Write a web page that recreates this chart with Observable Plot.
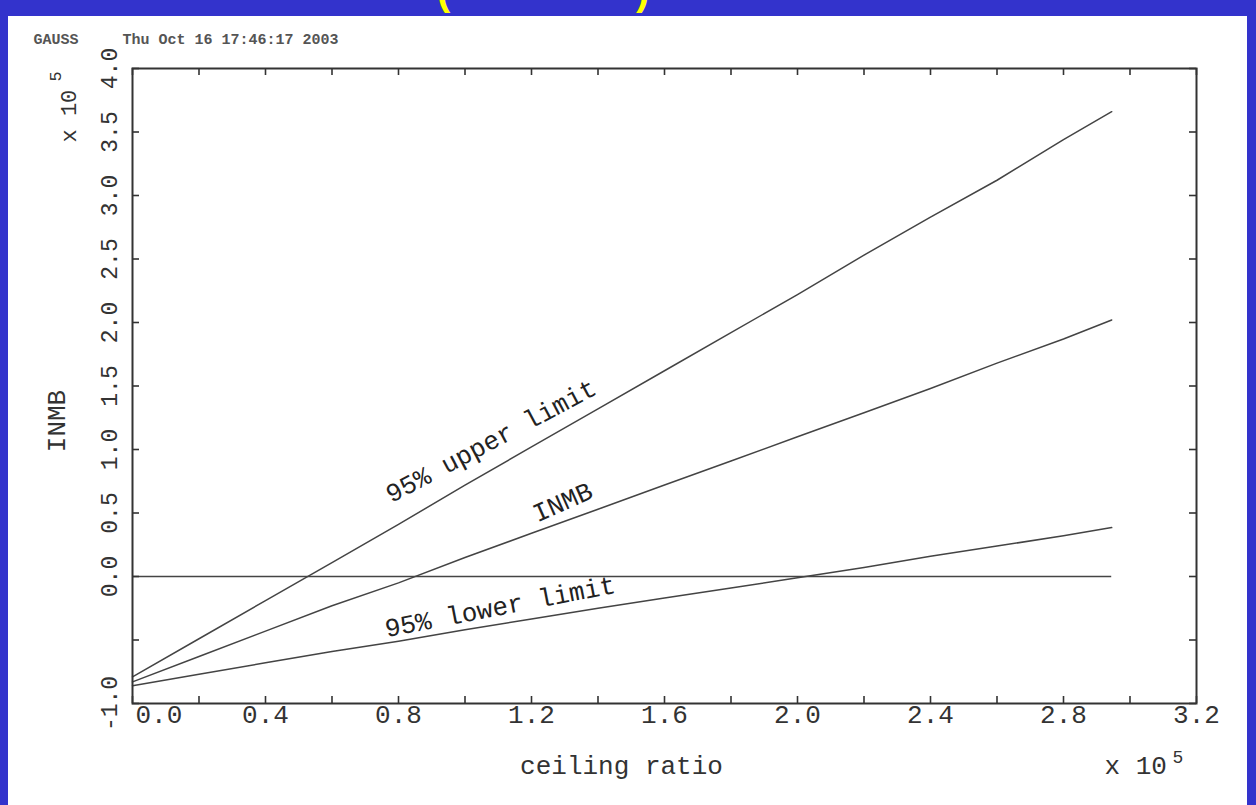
<!DOCTYPE html>
<html><head><meta charset="utf-8">
<script src="https://cdn.jsdelivr.net/npm/d3@7"></script>
<script src="https://cdn.jsdelivr.net/npm/@observablehq/plot@0.6"></script>
<style>
html,body{margin:0;padding:0;}
body{width:1256px;height:805px;background:#3333cc;position:relative;overflow:hidden;}
#panel{position:absolute;left:8px;top:16px;width:1239px;height:789px;background:#fff;}
#yellow{position:absolute;top:0;left:0;width:1256px;height:16px;overflow:hidden;}
#yellow span{position:absolute;top:-29px;font:bold 40px "Liberation Sans";color:#ffff00;line-height:40px;}
</style></head><body>
<div id="yellow"><span style="left:437px">(</span><span style="left:636px">)</span></div>
<div id="panel"></div>
<script>
// ceiling ratio (x 10^5)
const ceiling = [0, 0.2, 0.4, 0.6, 0.8, 1.0, 1.2, 1.4, 1.6, 1.8, 2.0, 2.2, 2.4, 2.6, 2.8, 2.945];
// INMB series (x 10^5)
const upper = [-0.79, -0.49, -0.19, 0.11, 0.41, 0.72, 1.02, 1.32, 1.62, 1.92, 2.22, 2.53, 2.83, 3.12, 3.44, 3.66];
const inmb  = [-0.83, -0.63, -0.43, -0.23, -0.05, 0.15, 0.34, 0.53, 0.72, 0.91, 1.10, 1.29, 1.48, 1.68, 1.87, 2.02];
const lower = [-0.86, -0.77, -0.68, -0.59, -0.51, -0.42, -0.335, -0.25, -0.17, -0.09, -0.01, 0.07, 0.16, 0.24, 0.32, 0.385];
const seriesNames = ["95% upper limit", "INMB", "95% lower limit"];
const refLevel = 0;

const xTickValues = [0, 0.4, 0.8, 1.2, 1.6, 2.0, 2.4, 2.8, 3.2];
const xTickLabels = ["0.0", "0.4", "0.8", "1.2", "1.6", "2.0", "2.4", "2.8", "3.2"];
const xMinorValues = [0.2, 0.6, 1.0, 1.4, 1.8, 2.2, 2.6, 3.0];
const yTickValues = [-1, -0.5, 0, 0.5, 1, 1.5, 2, 2.5, 3, 3.5, 4];
const yTickLabels = ["-1.0", "", "0.0", "0.5", "1.0", "1.5", "2.0", "2.5", "3.0", "3.5", "4.0"];
const titleLeft = "GAUSS";
const titleRight = "Thu Oct 16 17:46:17 2003";
const xTitle = "ceiling ratio";
const yTitle = "INMB";
const scaleNote = "x 10";
const scaleExp = "5";

const W = 1239, H = 789, mL = 124, mR = 51, mT = 52, mB = 102;
const innerW = W - mL - mR, innerH = H - mT - mB;
const FONT = "Liberation Mono";
const INK = "#333";

const series = [upper, inmb, lower];
const tidy = [];
series.forEach((vals, s) => vals.forEach((v, i) => tidy.push({series: seriesNames[s], x: ceiling[i], y: v})));

const allXTicks = [...xTickValues, ...xMinorValues];
const tickStyle = {stroke: INK, strokeWidth: 1.6};

// label anchors: series index, point index, pixel offsets, rotation
const labelSpecs = [
  {s: 0, i: 5, dx: 26, dy: -44, rotate: -28},
  {s: 1, i: 6, dx: 31, dy: -31, rotate: -24},
  {s: 2, i: 5, dx: 35, dy: -23, rotate: -11}
];

const marks = [
  Plot.ruleY([refLevel], {x1: ceiling[0], x2: ceiling[ceiling.length - 1], stroke: "#444", strokeWidth: 1.6}),
  Plot.line(tidy, {x: "x", y: "y", z: "series", stroke: "#444", strokeWidth: 1.5}),
  Plot.tickX(allXTicks, {x: d => d, insetTop: innerH - 7, ...tickStyle}),
  Plot.tickX(allXTicks, {x: d => d, insetBottom: innerH - 7, ...tickStyle}),
  Plot.tickY(yTickValues, {y: d => d, insetRight: innerW - 7, ...tickStyle}),
  Plot.tickY(yTickValues, {y: d => d, insetLeft: innerW - 7, ...tickStyle}),
  Plot.frame({stroke: "#333", strokeWidth: 2}),
  // x tick labels
  Plot.text(xTickValues.slice(1), {x: d => d, text: (d, i) => xTickLabels[i + 1], frameAnchor: "bottom", dy: 19, fontSize: 26, fontFamily: FONT, fill: INK}),
  Plot.text([xTickValues[0]], {x: d => d, text: () => xTickLabels[0], frameAnchor: "bottom", textAnchor: "start", dx: 3, dy: 19, fontSize: 26, fontFamily: FONT, fill: INK}),
  // y tick labels
  Plot.text(yTickValues, {y: d => d, text: (d, i) => yTickLabels[i], frameAnchor: "left", dx: -23, rotate: -90, textAnchor: "middle", fontSize: 23, fontFamily: FONT, fill: INK}),
  // titles
  Plot.text([titleLeft], {text: d => d, frameAnchor: "top-left", textAnchor: "start", dx: -99, dy: -35, fontSize: 15, fontWeight: "bold", fontFamily: FONT, fill: "#555"}),
  Plot.text([titleRight], {text: d => d, frameAnchor: "top-left", textAnchor: "start", dx: -10, dy: -35, fontSize: 15, fontWeight: "bold", fontFamily: FONT, fill: "#555"}),
  Plot.text([xTitle], {text: d => d, frameAnchor: "bottom-left", textAnchor: "middle", dx: 489, dy: 70, fontSize: 26, fontFamily: FONT, fill: INK}),
  Plot.text([scaleNote], {text: d => d, frameAnchor: "bottom-right", textAnchor: "start", dx: -92, dy: 70, fontSize: 26, fontFamily: FONT, fill: INK}),
  Plot.text([scaleExp], {text: d => d, frameAnchor: "bottom-right", textAnchor: "start", dx: -24, dy: 59, fontSize: 18, fontFamily: FONT, fill: INK}),
  Plot.text([yTitle], {text: d => d, frameAnchor: "left", textAnchor: "middle", rotate: -90, dx: -76, dy: 35, fontSize: 26, fontFamily: FONT, fill: INK}),
  Plot.text([scaleNote], {text: d => d, frameAnchor: "top-left", textAnchor: "start", rotate: -90, dx: -72, dy: 74, fontSize: 22, fontFamily: FONT, fill: INK}),
  Plot.text([scaleExp], {text: d => d, frameAnchor: "top-left", textAnchor: "middle", rotate: -90, dx: -84, dy: 8, fontSize: 17, fontFamily: FONT, fill: INK})
];

labelSpecs.forEach(sp => {
  marks.push(Plot.text([{x: ceiling[sp.i], y: series[sp.s][sp.i], t: seriesNames[sp.s]}], {
    x: "x", y: "y", text: "t", rotate: sp.rotate, dx: sp.dx, dy: sp.dy,
    textAnchor: "middle", fontSize: 26, fontFamily: FONT, fill: "#222"
  }));
});

const chart = Plot.plot({
  width: W, height: H,
  marginLeft: mL, marginRight: mR, marginTop: mT, marginBottom: mB,
  x: {domain: [0, 3.2], axis: null},
  y: {domain: [-1, 4], axis: null},
  style: {background: "#fff", overflow: "visible"},
  marks
});
document.getElementById("panel").appendChild(chart);
</script>
</body></html>
